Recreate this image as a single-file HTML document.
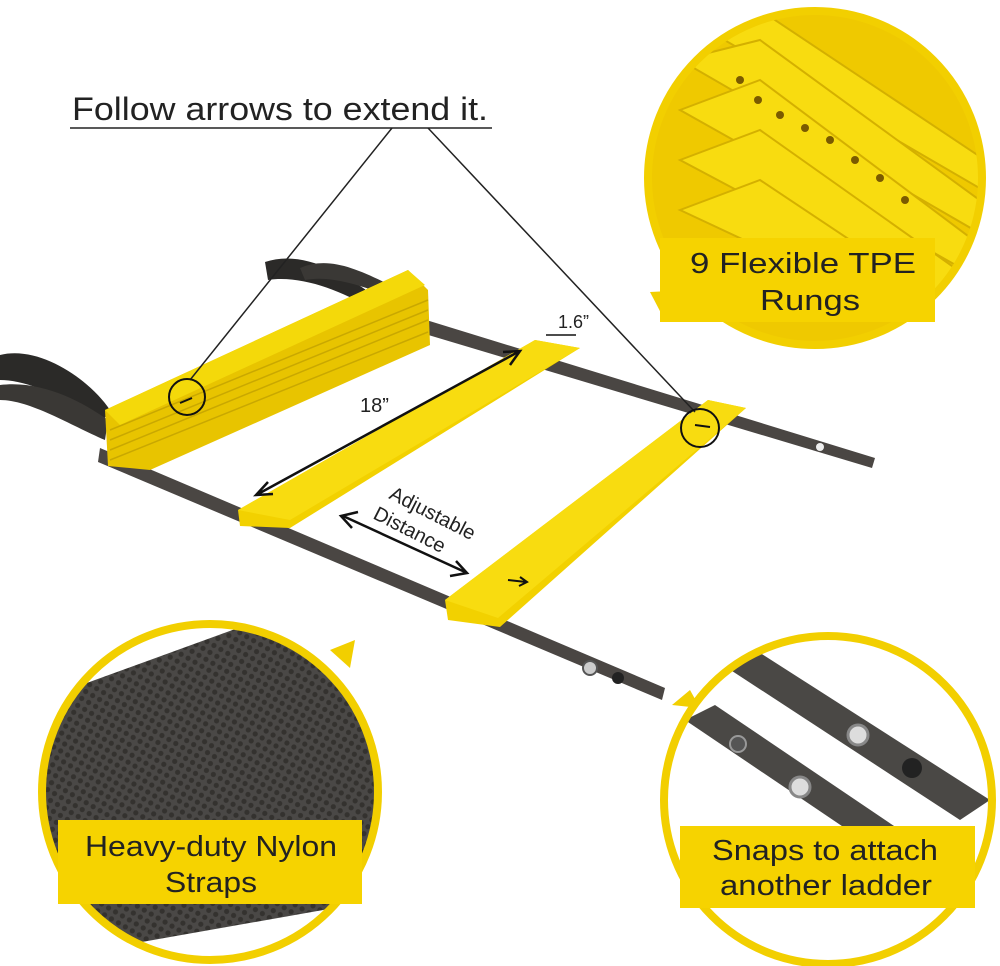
<!DOCTYPE html>
<html><head><meta charset="utf-8"><style>
html,body{margin:0;padding:0;background:#fff;}
svg{display:block}
text{font-family:"Liberation Sans",sans-serif;}
</style></head><body>
<svg width="1000" height="966" viewBox="0 0 1000 966" xmlns="http://www.w3.org/2000/svg">
<defs>
<clipPath id="c1"><circle cx="815" cy="178" r="165"/></clipPath>
<clipPath id="c2"><circle cx="210" cy="792" r="166"/></clipPath>
<clipPath id="c3"><circle cx="828" cy="800" r="162"/></clipPath>
<pattern id="mesh" width="8" height="8" patternUnits="userSpaceOnUse" patternTransform="rotate(30)">
<rect width="8" height="8" fill="#4a4846"/><circle cx="4" cy="4" r="2.6" fill="#34322f"/>
</pattern>
</defs>
<rect width="1000" height="966" fill="#fff"/>

<path d="M0 355 C40 345 90 380 110 410 L100 425 C70 400 30 380 0 380 Z" fill="#2b2a28"/>
<path d="M0 385 C40 380 80 400 108 420 L105 440 C70 425 30 400 0 400 Z" fill="#3a3835"/>
<path d="M265 262 C300 250 340 270 380 300 L370 308 C340 290 300 275 268 280 Z" fill="#2b2a28"/>
<path d="M300 268 C330 255 360 270 400 290 L395 298 C360 285 330 275 305 280 Z" fill="#3a3835"/>

<polygon points="100,448 665,688 662,700 98,462" fill="#4a4643"/>
<polygon points="410,315 875,458 872,468 405,328" fill="#4a4643"/>

<polygon points="105,410 408,270 428,290 430,345 150,470 108,466" fill="#e8c400"/>
<polygon points="105,410 408,270 425,285 120,425" fill="#f4d90a"/>
<g stroke="#c9a800" stroke-width="1.5">
<line x1="110" y1="430" x2="428" y2="300"/><line x1="110" y1="440" x2="428" y2="310"/>
<line x1="110" y1="450" x2="428" y2="320"/><line x1="110" y1="460" x2="428" y2="332"/>
</g>
<line x1="180" y1="403" x2="192" y2="398" stroke="#111" stroke-width="2"/>

<polygon points="238,510 535,340 580,348 290,528 240,526" fill="#f2d100"/>
<polygon points="238,510 535,340 580,348 290,520" fill="#f8dc10"/>

<polygon points="445,600 708,400 746,408 500,627 448,620" fill="#f2d100"/>
<polygon points="445,600 708,400 746,408 498,618" fill="#f8dc10"/>
<path d="M508 580 L526 582 M520 577 L527 582 L519 586" stroke="#111" stroke-width="2" fill="none"/>
<line x1="695" y1="425" x2="710" y2="427" stroke="#111" stroke-width="2"/>

<circle cx="590" cy="668" r="7" fill="#ccc" stroke="#555" stroke-width="2"/>
<circle cx="618" cy="678" r="6" fill="#222"/>
<circle cx="820" cy="447" r="4" fill="#eee"/>

<g stroke="#111" stroke-width="2.5" fill="none">
<line x1="258" y1="494" x2="518" y2="352"/>
<path d="M268 482 L256 495 L273 494"/><path d="M503 352 L520 351 L510 365"/>
<line x1="343" y1="516" x2="465" y2="572"/>
<path d="M358 512 L341 516 L352 528"/><path d="M450 576 L467 573 L456 561"/>
<line x1="546" y1="335" x2="576" y2="335" stroke-width="1.5"/>
</g>
<text x="360" y="412" font-size="20" fill="#222">18”</text>
<text x="558" y="328" font-size="18" fill="#222">1.6”</text>
<text transform="translate(388,498) rotate(27)" font-size="20" fill="#222">Adjustable</text>
<text transform="translate(372,518) rotate(27)" font-size="20" fill="#222">Distance</text>

<text x="72" y="120" font-size="32" fill="#222" textLength="416" lengthAdjust="spacingAndGlyphs">Follow arrows to extend it.</text>
<line x1="70" y1="128" x2="492" y2="128" stroke="#222" stroke-width="1.5"/>
<line x1="392" y1="128" x2="190" y2="380" stroke="#222" stroke-width="1.5"/>
<line x1="428" y1="128" x2="695" y2="412" stroke="#222" stroke-width="1.5"/>
<circle cx="187" cy="397" r="18" fill="none" stroke="#111" stroke-width="2"/>
<circle cx="700" cy="428" r="19" fill="none" stroke="#111" stroke-width="2"/>

<polygon points="650,292 690,290 662,315" fill="#f2cf00"/>
<g clip-path="url(#c1)">
<rect x="640" y="0" width="360" height="360" fill="#efc900"/>
<g fill="#f8dc10" stroke="#d4b000" stroke-width="2">
<polygon points="690,20 760,10 1000,170 1000,200"/>
<polygon points="680,60 760,40 1000,215 1000,245"/>
<polygon points="680,110 760,80 1000,260 1000,290"/>
<polygon points="680,160 760,130 1000,300 1000,330"/>
<polygon points="680,210 760,180 1000,340 1000,360"/>
</g>
<g fill="#7a5a00"><circle cx="758" cy="100" r="4"/><circle cx="780" cy="115" r="4"/><circle cx="805" cy="128" r="4"/><circle cx="830" cy="140" r="4"/><circle cx="855" cy="160" r="4"/><circle cx="880" cy="178" r="4"/><circle cx="905" cy="200" r="4"/><circle cx="740" cy="80" r="4"/></g>
</g>
<circle cx="815" cy="178" r="167" fill="none" stroke="#f2cf00" stroke-width="8"/>
<rect x="660" y="238" width="275" height="84" fill="#f6d300"/>
<text x="690" y="273" font-size="29" fill="#222" textLength="226" lengthAdjust="spacingAndGlyphs">9 Flexible TPE</text>
<text x="760" y="310" font-size="29" fill="#222" textLength="100" lengthAdjust="spacingAndGlyphs">Rungs</text>

<polygon points="330,650 355,640 350,668" fill="#f2cf00"/>
<g clip-path="url(#c2)">
<rect x="40" y="620" width="340" height="340" fill="#fff"/>
<polygon points="40,700 260,620 380,620 380,900 40,960" fill="url(#mesh)"/>
</g>
<circle cx="210" cy="792" r="168" fill="none" stroke="#f2cf00" stroke-width="8"/>
<rect x="58" y="820" width="304" height="84" fill="#f6d300"/>
<text x="85" y="856" font-size="29" fill="#222" textLength="252" lengthAdjust="spacingAndGlyphs">Heavy-duty Nylon</text>
<text x="165" y="892" font-size="29" fill="#222" textLength="92" lengthAdjust="spacingAndGlyphs">Straps</text>

<polygon points="690,690 672,705 700,708" fill="#f2cf00"/>
<g clip-path="url(#c3)">
<rect x="660" y="630" width="340" height="340" fill="#fff"/>
<polygon points="700,650 740,640 990,800 960,820" fill="#4a4845"/>
<polygon points="685,720 715,705 900,830 870,845" fill="#4a4845"/>
<circle cx="858" cy="735" r="10" fill="#ddd" stroke="#888" stroke-width="3"/>
<circle cx="912" cy="768" r="10" fill="#222"/>
<circle cx="738" cy="744" r="8" fill="#555" stroke="#999" stroke-width="2"/>
<circle cx="800" cy="787" r="10" fill="#ddd" stroke="#888" stroke-width="3"/>
</g>
<circle cx="828" cy="800" r="164" fill="none" stroke="#f2cf00" stroke-width="8"/>
<rect x="680" y="826" width="295" height="82" fill="#f6d300"/>
<text x="712" y="860" font-size="29" fill="#222" textLength="226" lengthAdjust="spacingAndGlyphs">Snaps to attach</text>
<text x="720" y="895" font-size="29" fill="#222" textLength="212" lengthAdjust="spacingAndGlyphs">another ladder</text>
</svg>
</body></html>
